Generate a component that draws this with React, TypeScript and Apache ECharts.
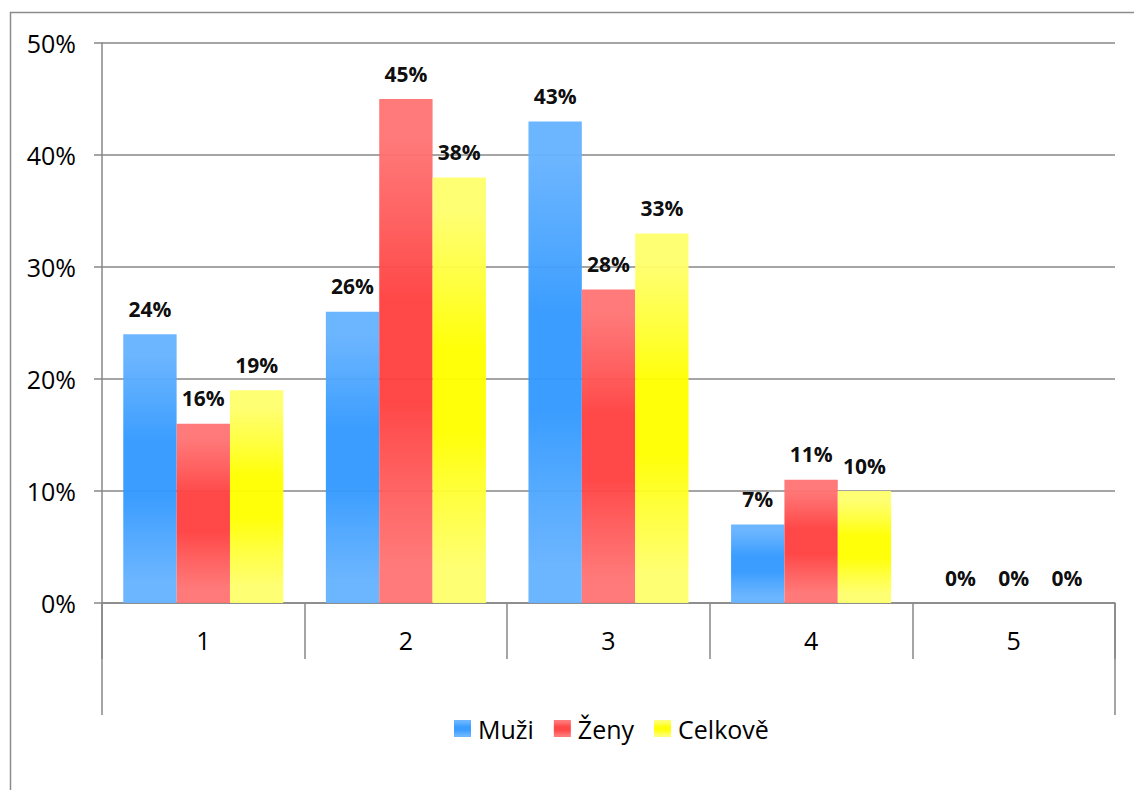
import React, { useEffect, useRef } from "react";
import * as echarts from "echarts";

// Categories along the x axis and the share (in %) answering each option
const categories = ["1", "2", "3", "4", "5"];
const muzi = [24, 26, 43, 7, 0];
const zeny = [16, 45, 28, 11, 0];
const celkove = [19, 38, 33, 10, 0];
const yTicks = [0, 10, 20, 30, 40, 50];

const FONT = "'Open Sans', 'Noto Sans', sans-serif";
const GRID_COLOR = "#878787";

// Light edges fading to a saturated middle, like the Office "from centre" fill
const shade = (edge: string, between: string, mid: string) =>
  new echarts.graphic.LinearGradient(0, 0, 0, 1, [
    { offset: 0, color: edge },
    { offset: 0.08, color: edge },
    { offset: 0.25, color: between },
    { offset: 0.4, color: mid },
    { offset: 0.6, color: mid },
    { offset: 0.75, color: between },
    { offset: 0.92, color: edge },
    { offset: 1, color: edge },
  ]);

const series = [
  { name: "Muži", data: muzi, edge: "#66b2ff", between: "#4ca6ff", mid: "#3399ff" },
  { name: "Ženy", data: zeny, edge: "#ff7474", between: "#ff5a5a", mid: "#ff4040" },
  { name: "Celkově", data: celkove, edge: "#ffff6e", between: "#ffff38", mid: "#ffff00" },
];

export default function App() {
  const ref = useRef<HTMLDivElement>(null);

  useEffect(() => {
    if (!ref.current) return;
    const chart = echarts.init(ref.current, undefined, { renderer: "svg" });

    const left = 102;
    const right = 1115;
    const top = 43;
    const bottom = 603;

    chart.setOption({
      animation: false,
      textStyle: { fontFamily: FONT },
      grid: { left, right: 1134 - right, top, bottom: 790 - bottom },
      legend: {
        left: 449,
        top: 711,
        itemWidth: 17,
        itemHeight: 17,
        itemGap: 20,
        icon: "rect",
        textStyle: { fontFamily: FONT, fontSize: 25, color: "#000", padding: [0, 0, 0, 2] },
        data: series.map((s) => s.name),
      },
      xAxis: {
        type: "category",
        data: categories,
        axisLine: { lineStyle: { color: GRID_COLOR, width: 1.5 } },
        axisTick: {
          show: true,
          interval: 0,
          inside: false,
          length: 56,
          lineStyle: { color: GRID_COLOR, width: 1.5 },
        },
        axisLabel: { color: "#000", fontSize: 25, fontFamily: FONT, margin: 24 },
      },
      yAxis: {
        type: "value",
        min: yTicks[0],
        max: yTicks[yTicks.length - 1],
        interval: 10,
        axisLine: { show: true, lineStyle: { color: GRID_COLOR, width: 1.5 } },
        axisTick: { show: true, length: 8, lineStyle: { color: GRID_COLOR, width: 1.5 } },
        splitLine: { lineStyle: { color: GRID_COLOR, width: 1.5 } },
        axisLabel: {
          color: "#000",
          fontSize: 25,
          fontFamily: FONT,
          margin: 26,
          formatter: "{value}%",
        },
      },
      series: series.map((s) => ({
        name: s.name,
        type: "bar",
        data: s.data,
        barGap: "0%",
        barCategoryGap: "21%",
        itemStyle: { color: shade(s.edge, s.between, s.mid), opacity: 0.96 },
        label: {
          show: true,
          position: "top",
          distance: 15,
          formatter: "{c}%",
          fontFamily: FONT,
          fontSize: 21,
          fontWeight: "bold",
          color: "#000",
        },
      })),
      graphic: [
        // chart frame (right and bottom edges fall outside the page)
        {
          type: "rect",
          shape: { x: 10.5, y: 12.5, width: 1300, height: 1000 },
          style: { fill: "none", stroke: "#8c8c8c", lineWidth: 1.5 },
          silent: true,
        },
        // outer category dividers run down to the legend band
        {
          type: "line",
          shape: { x1: left, y1: bottom, x2: left, y2: 715 },
          style: { stroke: GRID_COLOR, lineWidth: 1.5 },
          silent: true,
        },
        {
          type: "line",
          shape: { x1: right, y1: bottom, x2: right, y2: 715 },
          style: { stroke: GRID_COLOR, lineWidth: 1.5 },
          silent: true,
        },
      ],
    });

    return () => chart.dispose();
  }, []);

  return (
    <div
      ref={ref}
      style={{ position: "fixed", left: 0, top: 0, width: 1134, height: 790, background: "#fff" }}
    />
  );
}
